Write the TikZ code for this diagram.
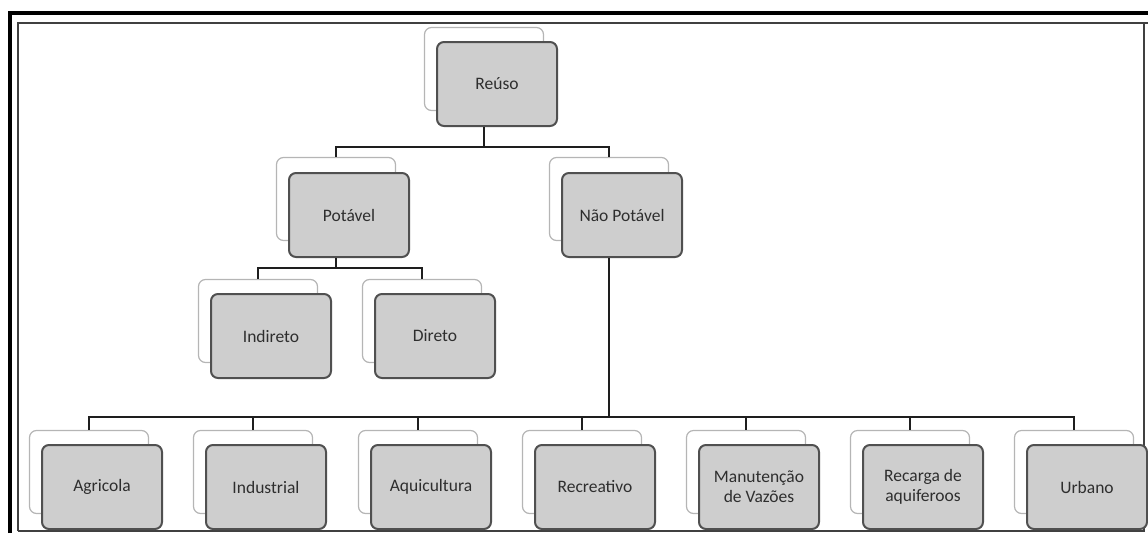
\documentclass[tikz,border=0pt]{standalone}
\usepackage{fontspec}
\setmainfont{Carlito}
\definecolor{frontfill}{HTML}{CECECE}
\definecolor{frontline}{HTML}{505050}
\definecolor{backline}{HTML}{B5B5B5}
\definecolor{txt}{HTML}{2E2E2E}
\definecolor{conncol}{HTML}{1E1E1E}
\tikzset{
  backbox/.style={draw=backline, fill=white, rounded corners=7pt, line width=1.2pt,
    minimum width=119pt, minimum height=83pt, inner sep=0pt},
  frontbox/.style={draw=frontline, fill=frontfill, rounded corners=7pt, line width=2pt,
    minimum width=120pt, minimum height=84pt, inner sep=0pt, align=center, text=txt,
    font=\fontsize{17.5}{20}\selectfont},
  conn/.style={draw=conncol, line width=2.6pt},
  frameouter/.style={draw=black, line width=4pt},
  frameinner/.style={draw=black!75, line width=1.8pt}
}
\begin{document}
\begin{tikzpicture}[x=1pt,y=-1pt]
\useasboundingbox (0,0) rectangle (1148,533);
% frame
\draw[frameouter] (10,533) -- (10,13) -- (1148,13);
\draw[frameinner] (18,531) -- (18,23) -- (1148,23);
\draw[frameinner] (18,531) -- (1144,531) -- (1144,23);
% bar levels
\coordinate (bar1) at (0,147);
\coordinate (bar2) at (0,268);
\coordinate (bar3) at (0,417);
% back boxes
\node[backbox] (rb) at (484,69) {};
\node[backbox] (pb) at (336,199) {};
\node[backbox] (nb) at (609,199) {};
\node[backbox] (ib) at (258,321) {};
\node[backbox] (db) at (422,321) {};
\node[backbox] (a1b) at (89,472) {};
\node[backbox] (a2b) at (253,472) {};
\node[backbox] (a3b) at (418,472) {};
\node[backbox] (a4b) at (582,472) {};
\node[backbox] (a5b) at (746,472) {};
\node[backbox] (a6b) at (910,472) {};
\node[backbox] (a7b) at (1074,472) {};
% front boxes
\node[frontbox] (r) at (497,84) {Reúso};
\node[frontbox] (p) at (349,215) {Potável};
\node[frontbox] (n) at (622,215) {Não Potável};
\node[frontbox] (i) at (271,336) {Indireto};
\node[frontbox] (d) at (435,336) {Direto};
\node[frontbox] (a1) at (102,487) {Agricola};
\node[frontbox] (a2) at (266,487) {Industrial};
\node[frontbox] (a3) at (431,487) {Aquicultura};
\node[frontbox] (a4) at (595,487) {Recreativo};
\node[frontbox] (a5) at (759,487) {Manutenção\\de Vazões};
\node[frontbox] (a6) at (923,487) {Recarga de\\aquiferoos};
\node[frontbox] (a7) at (1087,487) {Urbano};
% connectors
\draw[conn] (rb |- r.south) -- (rb |- bar1);
\draw[conn] (pb.north) -- (pb |- bar1) -- (nb |- bar1) -- (nb.north);
\draw[conn] (pb |- p.south) -- (pb |- bar2);
\draw[conn] (ib.north) -- (ib |- bar2) -- (db |- bar2) -- (db.north);
\draw[conn] (nb |- n.south) -- (nb |- bar3);
\draw[conn] (a1b.north) -- (a1b |- bar3) -- (a7b |- bar3) -- (a7b.north);
\draw[conn] (a2b.north) -- (a2b |- bar3);
\draw[conn] (a3b.north) -- (a3b |- bar3);
\draw[conn] (a4b.north) -- (a4b |- bar3);
\draw[conn] (a5b.north) -- (a5b |- bar3);
\draw[conn] (a6b.north) -- (a6b |- bar3);
\end{tikzpicture}
\end{document}
